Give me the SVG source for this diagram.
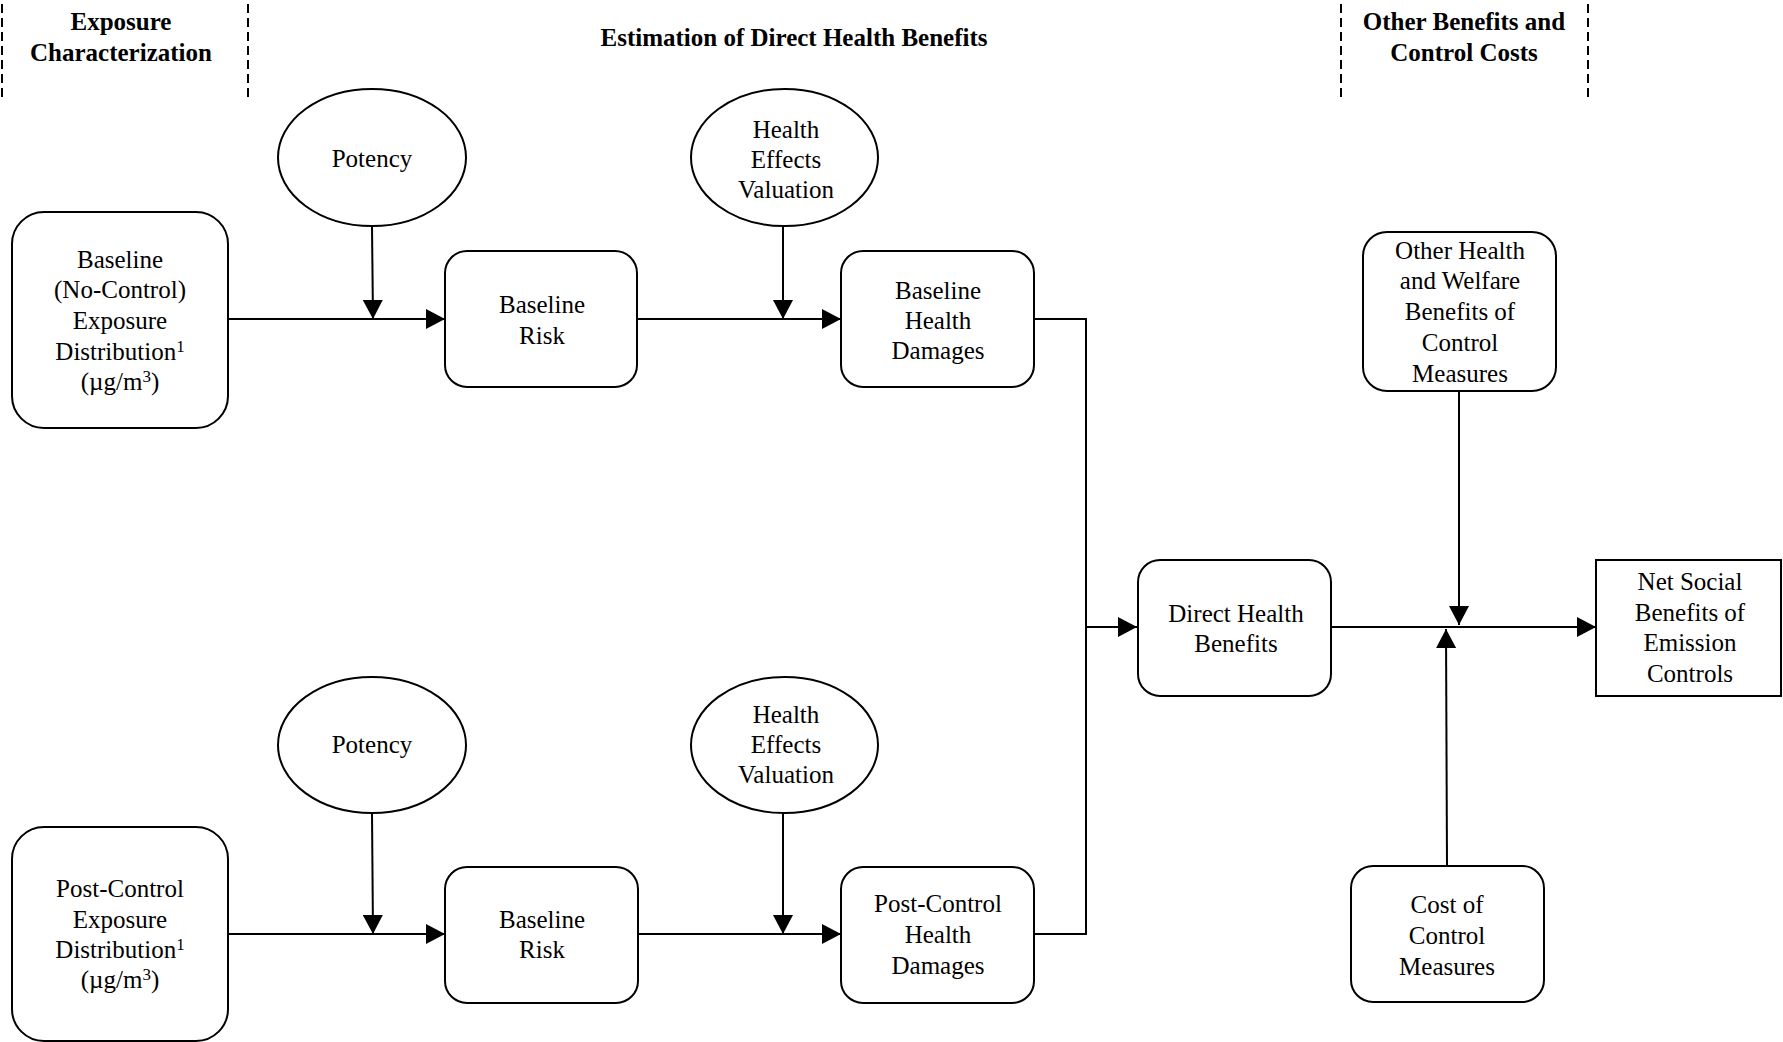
<svg xmlns="http://www.w3.org/2000/svg" width="1783" height="1042" viewBox="0 0 1783 1042">
<defs>
<style>
.node{fill:#fff;stroke:#000;stroke-width:2}
.t{font-family:"Liberation Serif","Times New Roman",serif;font-size:25px;fill:#000;text-anchor:middle}
.h{font-family:"Liberation Serif","Times New Roman",serif;font-size:25px;font-weight:bold;fill:#000;text-anchor:middle}
.c{fill:none;stroke:#000;stroke-width:2}
.d{fill:none;stroke:#000;stroke-width:2;stroke-dasharray:9,5}
.sup{font-size:17px}
</style>
<marker id="arr" markerUnits="userSpaceOnUse" markerWidth="20" markerHeight="20" refX="19" refY="10" orient="auto">
<path d="M0,0 L19,10 L0,20 z" fill="#000"/>
</marker>
</defs>
<rect width="1783" height="1042" fill="#fff"/>

<g id="headers">
<line class="d" x1="2" y1="4" x2="2" y2="100"/>
<line class="d" x1="248" y1="4" x2="248" y2="100"/>
<line class="d" x1="1341" y1="4" x2="1341" y2="100"/>
<line class="d" x1="1588" y1="4" x2="1588" y2="100"/>
<text class="h" x="121" y="30">Exposure</text>
<text class="h" x="121" y="61">Characterization</text>
<text class="h" x="794" y="46">Estimation of Direct Health Benefits</text>
<text class="h" x="1464" y="30">Other Benefits and</text>
<text class="h" x="1464" y="61">Control Costs</text>
</g>

<g id="connectors">
<line class="c" x1="228" y1="319" x2="445" y2="319" marker-end="url(#arr)"/>
<line class="c" x1="372" y1="226" x2="373" y2="319" marker-end="url(#arr)"/>
<line class="c" x1="637" y1="319" x2="841" y2="319" marker-end="url(#arr)"/>
<line class="c" x1="783" y1="226" x2="783" y2="319" marker-end="url(#arr)"/>
<polyline class="c" points="1034,319 1086,319 1086,934 1034,934"/>
<line class="c" x1="1086" y1="627" x2="1137" y2="627" marker-end="url(#arr)"/>
<line class="c" x1="228" y1="934" x2="445" y2="934" marker-end="url(#arr)"/>
<line class="c" x1="372" y1="813" x2="373" y2="934" marker-end="url(#arr)"/>
<line class="c" x1="638" y1="934" x2="841" y2="934" marker-end="url(#arr)"/>
<line class="c" x1="783" y1="813" x2="783" y2="934" marker-end="url(#arr)"/>
<line class="c" x1="1331" y1="627" x2="1596" y2="627" marker-end="url(#arr)"/>
<line class="c" x1="1459" y1="391" x2="1459" y2="625" marker-end="url(#arr)"/>
<line class="c" x1="1447" y1="866" x2="1446" y2="629" marker-end="url(#arr)"/>
</g>

<g id="baseline-exposure">
<rect class="node" x="12" y="212" width="216" height="216" rx="32"/>
<text class="t" x="120" y="268">Baseline</text>
<text class="t" x="120" y="298">(No-Control)</text>
<text class="t" x="120" y="329">Exposure</text>
<text class="t" x="120" y="360">Distribution<tspan class="sup" dy="-8">1</tspan></text>
<text class="t" x="120" y="390">(µg/m<tspan class="sup" dy="-8">3</tspan><tspan dy="8">)</tspan></text>
</g>

<g id="potency-top">
<ellipse class="node" cx="372" cy="157.5" rx="94" ry="68.5"/>
<text class="t" x="372" y="167">Potency</text>
</g>

<g id="baseline-risk-top">
<rect class="node" x="445" y="251" width="192" height="136" rx="22"/>
<text class="t" x="542" y="313">Baseline</text>
<text class="t" x="542" y="344">Risk</text>
</g>

<g id="hev-top">
<ellipse class="node" cx="784.5" cy="157.5" rx="93.5" ry="68.5"/>
<text class="t" x="786" y="138">Health</text>
<text class="t" x="786" y="168">Effects</text>
<text class="t" x="786" y="198">Valuation</text>
</g>

<g id="baseline-health-damages">
<rect class="node" x="841" y="251" width="193" height="136" rx="22"/>
<text class="t" x="938" y="299">Baseline</text>
<text class="t" x="938" y="329">Health</text>
<text class="t" x="938" y="359">Damages</text>
</g>

<g id="post-control-exposure">
<rect class="node" x="12" y="827" width="216" height="214" rx="32"/>
<text class="t" x="120" y="897">Post-Control</text>
<text class="t" x="120" y="928">Exposure</text>
<text class="t" x="120" y="958">Distribution<tspan class="sup" dy="-8">1</tspan></text>
<text class="t" x="120" y="988">(µg/m<tspan class="sup" dy="-8">3</tspan><tspan dy="8">)</tspan></text>
</g>

<g id="potency-bottom">
<ellipse class="node" cx="372" cy="745" rx="94" ry="68"/>
<text class="t" x="372" y="753">Potency</text>
</g>

<g id="baseline-risk-bottom">
<rect class="node" x="445" y="867" width="193" height="136" rx="22"/>
<text class="t" x="542" y="928">Baseline</text>
<text class="t" x="542" y="958">Risk</text>
</g>

<g id="hev-bottom">
<ellipse class="node" cx="784.5" cy="745" rx="93.5" ry="68"/>
<text class="t" x="786" y="723">Health</text>
<text class="t" x="786" y="753">Effects</text>
<text class="t" x="786" y="783">Valuation</text>
</g>

<g id="post-control-health-damages">
<rect class="node" x="841" y="867" width="193" height="136" rx="22"/>
<text class="t" x="938" y="912">Post-Control</text>
<text class="t" x="938" y="943">Health</text>
<text class="t" x="938" y="974">Damages</text>
</g>

<g id="direct-health-benefits">
<rect class="node" x="1138" y="560" width="193" height="136" rx="22"/>
<text class="t" x="1236" y="622">Direct Health</text>
<text class="t" x="1236" y="652">Benefits</text>
</g>

<g id="other-benefits">
<rect class="node" x="1363" y="232" width="193" height="159" rx="24"/>
<text class="t" x="1460" y="259">Other Health</text>
<text class="t" x="1460" y="289">and Welfare</text>
<text class="t" x="1460" y="320">Benefits of</text>
<text class="t" x="1460" y="351">Control</text>
<text class="t" x="1460" y="382">Measures</text>
</g>

<g id="net-social-benefits">
<rect class="node" x="1596" y="560" width="185" height="136"/>
<text class="t" x="1690" y="590">Net Social</text>
<text class="t" x="1690" y="621">Benefits of</text>
<text class="t" x="1690" y="651">Emission</text>
<text class="t" x="1690" y="682">Controls</text>
</g>

<g id="cost-of-control">
<rect class="node" x="1351" y="866" width="193" height="136" rx="22"/>
<text class="t" x="1447" y="913">Cost of</text>
<text class="t" x="1447" y="944">Control</text>
<text class="t" x="1447" y="975">Measures</text>
</g>
</svg>
